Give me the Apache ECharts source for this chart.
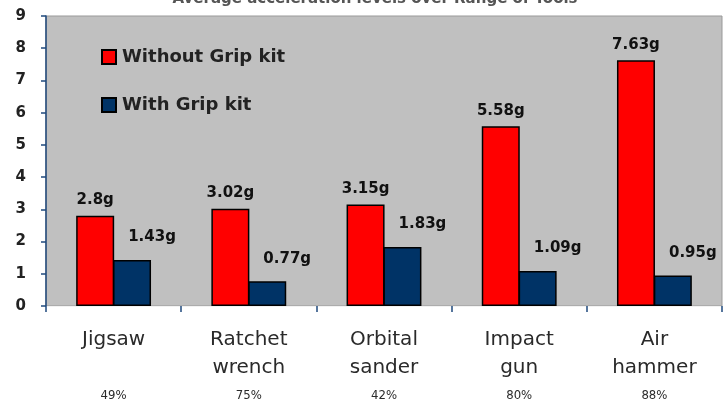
<!DOCTYPE html>
<html>
<head>
<meta charset="utf-8">
<script src="https://cdn.jsdelivr.net/npm/echarts@6/dist/echarts.min.js"></script>
<style>html,body{margin:0;padding:0;background:#fff}#c{width:725px;height:404px}</style>
</head>
<body>
<div id="c"></div>
<script>
const categories = ['Jigsaw', 'Ratchet\nwrench', 'Orbital\nsander', 'Impact\ngun', 'Air\nhammer'];
const reductions = ['49%', '75%', '42%', '80%', '88%'];
const withoutGrip = [2.8, 3.02, 3.15, 5.58, 7.63];
const withGrip = [1.43, 0.77, 1.83, 1.09, 0.95];
const yTicks = [0, 1, 2, 3, 4, 5, 6, 7, 8, 9];

const chart = echarts.init(document.getElementById('c'), null, {renderer: 'canvas'});
const labelFont = 'DejaVu Sans, sans-serif';
chart.setOption({
  animation: false,
  backgroundColor: '#ffffff',
  title: {
    text: 'Average acceleration levels over Range of Tools',
    left: 370, textAlign: 'center', top: -13,
    textStyle: {fontSize: 15, fontWeight: 'bold', color: '#555', fontFamily: 'DejaVu Sans, sans-serif'}
  },
  legend: {
    orient: 'vertical', left: 96, top: 43, itemGap: 30,
    itemWidth: 14, itemHeight: 14, icon: 'rect',
    textStyle: {fontSize: 18, fontWeight: 'bold', color: '#222', fontFamily: 'DejaVu Sans, sans-serif', padding: [0, 0, 0, 1]},
    data: ['Without Grip kit', 'With Grip kit']
  },
  grid: {
    left: 46, right: 3, top: 16, bottom: 98,
    show: true, backgroundColor: '#c0c0c0', borderColor: '#999999', borderWidth: 1
  },
  xAxis: {
    type: 'category', data: categories,
    axisLine: {lineStyle: {color: '#f2f2f2', width: 1}},
    axisTick: {show: true, length: 6, lineStyle: {color: '#1f497d', width: 1.5}},
    axisLabel: {
      margin: 20,
      formatter: (v, i) => {
        const parts = v.split('\n');
        const l1 = parts[0];
        const l2 = parts.length > 1 ? parts[1] : '';
        return '{c|' + l1 + '}\n{c|' + l2 + '}\n{p|' + reductions[i] + '}';
      },
      rich: {
        c: {fontSize: 20, lineHeight: 28, color: '#2a2a2a', fontFamily: 'DejaVu Sans, sans-serif'},
        p: {fontSize: 13, lineHeight: 28, color: '#2a2a2a', fontFamily: 'DejaVu Sans Condensed, DejaVu Sans, sans-serif'}
      }
    }
  },
  yAxis: {
    type: 'value', min: 0, max: 9, interval: 1,
    splitLine: {show: false},
    axisLine: {show: true, lineStyle: {color: '#1f497d', width: 1.5}},
    axisTick: {show: true, length: 5, lineStyle: {color: '#1f497d', width: 1.5}},
    axisLabel: {
      margin: 20, fontSize: 15, fontWeight: 'bold', color: '#222',
      fontFamily: 'DejaVu Sans, sans-serif',
      formatter: v => yTicks.includes(v) ? String(v) : ''
    }
  },
  series: [
    {
      name: 'Without Grip kit', type: 'bar', data: withoutGrip,
      barWidth: 38, barGap: '-3%',
      itemStyle: {color: '#ff0000', borderColor: '#000', borderWidth: 1.5},
      label: {
        show: true, position: 'top', distance: 8,
        formatter: p => p.value + 'g',
        fontSize: 15, fontWeight: 'bold', color: '#111', fontFamily: labelFont
      }
    },
    {
      name: 'With Grip kit', type: 'bar', data: withGrip,
      barWidth: 38,
      itemStyle: {color: '#003366', borderColor: '#000', borderWidth: 1.5},
      label: {
        show: true, position: 'top', distance: 15, offset: [20, 0],
        formatter: p => p.value + 'g',
        fontSize: 15, fontWeight: 'bold', color: '#111', fontFamily: labelFont
      }
    }
  ]
});
</script>
</body>
</html>
